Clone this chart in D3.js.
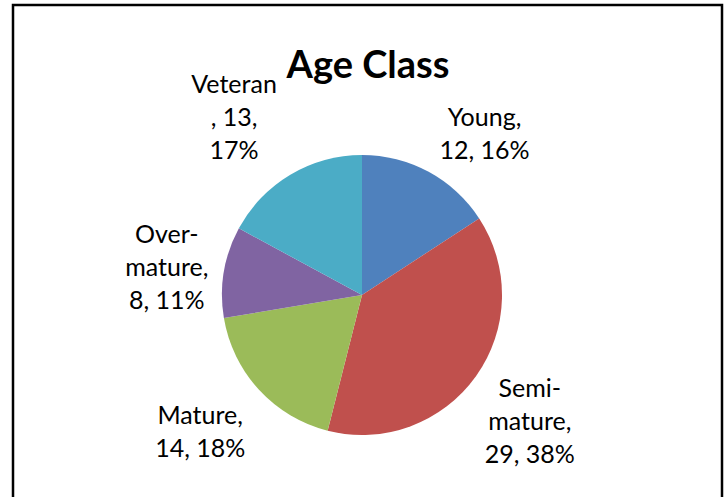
<!DOCTYPE html>
<html><head><meta charset="utf-8">
<script src="https://cdn.jsdelivr.net/npm/d3@7"></script>
<style>html,body{margin:0;padding:0;background:#fff;}svg{display:block;}</style>
</head><body>
<script>
const categories = ["Young", "Semi-mature", "Mature", "Over-mature", "Veteran"];
const values = [12, 29, 14, 8, 13];
const colors = ["#4F81BD", "#C0504D", "#9BBB59", "#8064A2", "#4BACC6"];
const title = "Age Class";
// label line layout ("|" = line break)
const labelTemplates = ["{c},|{v}, {p}%", "Semi-|mature,|{v}, {p}%", "{c},|{v}, {p}%", "Over-|mature,|{v}, {p}%", "{c}|, {v},|{p}%"];

const W = 727, H = 497;
const cx = 362, cy = 295, R = 140;
const labelR = 205;
// per-label nudges (layout only)
const nudges = [[25, 20], [1, 8], [-11, -1], [7, 7], [-23, -1]];
const lineH = 33;
const fontFamily = "Lato, 'Open Sans', sans-serif";

const svg = d3.select("body").append("svg").attr("width", W).attr("height", H);
svg.append("rect").attr("x", 13).attr("y", 5).attr("width", 709).attr("height", 520)
  .attr("fill", "#fff").attr("stroke", "#000").attr("stroke-width", 2.5);

svg.append("text").attr("x", 368).attr("y", 78).attr("text-anchor", "middle")
  .attr("font-family", fontFamily).attr("font-weight", "bold").attr("font-size", 38)
  .attr("fill", "#000").text(title);

const total = d3.sum(values);
const data = categories.map((c, i) => ({c, v: values[i], p: Math.round(values[i] / total * 100), i}));
const pie = d3.pie().value(d => d.v).sort(null);
const arcs = pie(data);
const arc = d3.arc().innerRadius(0).outerRadius(R);
const g = svg.append("g").attr("transform", `translate(${cx},${cy})`);
g.selectAll("path").data(arcs).join("path").attr("d", arc).attr("fill", d => colors[d.data.i]);

arcs.forEach(a => {
  const d = a.data;
  const mid = (a.startAngle + a.endAngle) / 2;
  const lines = labelTemplates[d.i].replace("{c}", d.c).replace("{v}", d.v).replace("{p}", d.p).split("|");
  const x = Math.sin(mid) * labelR + nudges[d.i][0];
  const y = -Math.cos(mid) * labelR + nudges[d.i][1];
  const t = g.append("text").attr("text-anchor", "middle").attr("font-family", fontFamily)
    .attr("font-size", 25).attr("fill", "#000");
  const y0 = y - (lines.length - 1) * lineH / 2 + 8;
  lines.forEach((l, k) => t.append("tspan").attr("x", x).attr("y", y0 + k * lineH).text(l));
});
</script>
</body></html>
